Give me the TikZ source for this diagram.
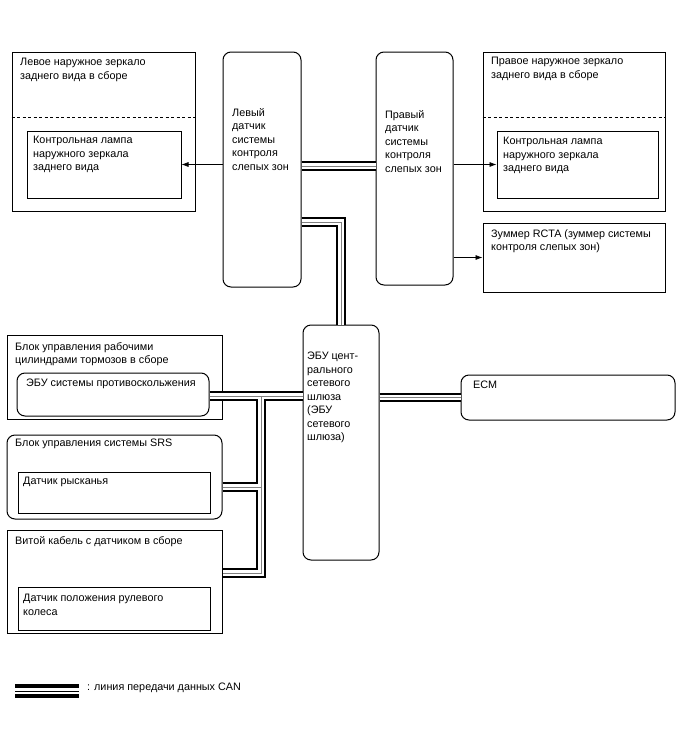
\documentclass[tikz,border=0pt]{standalone}
\usepackage{fontspec}
\setmainfont{Liberation Sans}
\usetikzlibrary{fit,arrows.meta}
\begin{document}
\begin{tikzpicture}[x=1pt,y=-1pt,
  box/.style={draw, line width=1pt, inner sep=0pt},
  rbox/.style={box, rounded corners=8pt},
  lbl/.style={anchor=north west, inner sep=0pt, align=left, font=\fontsize{10.8}{13.5}\selectfont},
  arr/.style={-{Latex[length=7pt,width=5pt]}, line width=0.6pt},
  dsh/.style={line width=0.9pt, dash pattern=on 3pt off 2.5pt}]
\useasboundingbox (0,0) rectangle (688,755);

% boxes
\node[box, fit={(12,52) (195,211)}] (lm) {};
\node[box, fit={(27,131) (181,198)}] (lin) {};
\node[rbox, fit={(223,52) (301,287)}] (lsens) {};
\node[rbox, fit={(376,52) (453,285)}] (rsens) {};
\node[box, fit={(483,52) (665,211)}] (rm) {};
\node[box, fit={(497,131) (658,198)}] (rin) {};
\node[box, fit={(483,223) (665,292)}] (buz) {};
\node[rbox, fit={(303,325) (379,560)}] (gw) {};
\node[rbox, fit={(461,375) (675,420)}] (ecm) {};
\node[box, fit={(7,335) (222,419)}] (brk) {};
\node[rbox, fit={(17,373) (209,416)}] (bin) {};
\node[rbox, fit={(7,435) (222,519)}] (srs) {};
\node[box, fit={(18,472) (210,513)}] (yaw) {};
\node[box, fit={(7,530) (222,633)}] (sp) {};
\node[box, fit={(18,587) (210,630)}] (sw) {};

% dashed separators
\draw[dsh] (lm.west |- 0,117) -- (lm.east |- 0,117);
\draw[dsh] (rm.west |- 0,117) -- (rm.east |- 0,117);

% texts
\node[lbl] (lmt) at (20,58) {Левое наружное зеркало\\заднего вида в сборе};
\node[lbl] (lit) at (33,136) {Контрольная лампа\\наружного зеркала\\заднего вида};
\node[lbl] (lst) at (232,108) {Левый\\датчик\\системы\\контроля\\слепых зон};
\node[lbl] (rst) at (385,110) {Правый\\датчик\\системы\\контроля\\слепых зон};
\node[lbl] (rmt) at (491,57) {Правое наружное зеркало\\заднего вида в сборе};
\node[lbl] (rit) at (503,137) {Контрольная лампа\\наружного зеркала\\заднего вида};
\node[lbl] (buzt) at (491,229) {Зуммер RCTA (зуммер системы\\контроля слепых зон)};
\node[lbl] (gwt) at (307,352) {ЭБУ цент-\\рального\\сетевого\\шлюза\\(ЭБУ\\сетевого\\шлюза)};
\node[lbl] (ecmt) at (473,381) {ECM};
\node[lbl] (bt) at (15,342) {Блок управления рабочими\\цилиндрами тормозов в сборе};
\node[lbl] (bit) at (26,379) {ЭБУ системы противоскольжения};
\node[lbl] (srst) at (15,439) {Блок управления системы SRS};
\node[lbl] (yawt) at (23,477) {Датчик рысканья};
\node[lbl] (spt) at (15,536) {Витой кабель с датчиком в сборе};
\node[lbl] (swt) at (23,594) {Датчик положения рулевого\\колеса};
\node[lbl] (legt) at (87,683) {: линия передачи данных CAN};

% arrows
\draw[arr] (lsens.west |- lin.east) -- (lin.east);
\draw[arr] (rsens.east |- rin.west) -- (rin.west);
\draw[arr] (rsens.east |- buz.west) -- (buz.west);

% CAN bus
\coordinate (c1) at (0,166);
\coordinate (c2) at (0,222);
\coordinate (j1) at (261,396);
\coordinate (c5) at (0,573);
\coordinate (c6) at (0,487);
\foreach \w/\c in {9.5pt/black,5.5pt/white,0.8pt/gray}{
  \draw[line width=\w, \c] (lsens.east |- c1) -- (rsens.west |- c1);
  \draw[line width=\w, \c] (lsens.east |- c2) -- (gw.north |- c2) -- (gw.north);
  \draw[line width=\w, \c] (gw.east |- ecm.west) -- (ecm.west);
  \draw[line width=\w, \c] (bin.east |- j1) -- (gw.west |- j1);
  \draw[line width=\w, \c] (j1) -- (j1 |- c5) -- (sp.east |- c5);
  \draw[line width=\w, \c] (srs.east |- c6) -- (j1 |- c6);
}

% legend
\fill (15,684) rectangle (79,688);
\fill (15,690.5) rectangle (79,691.5);
\fill (15,694) rectangle (79,698);
\end{tikzpicture}
\end{document}
